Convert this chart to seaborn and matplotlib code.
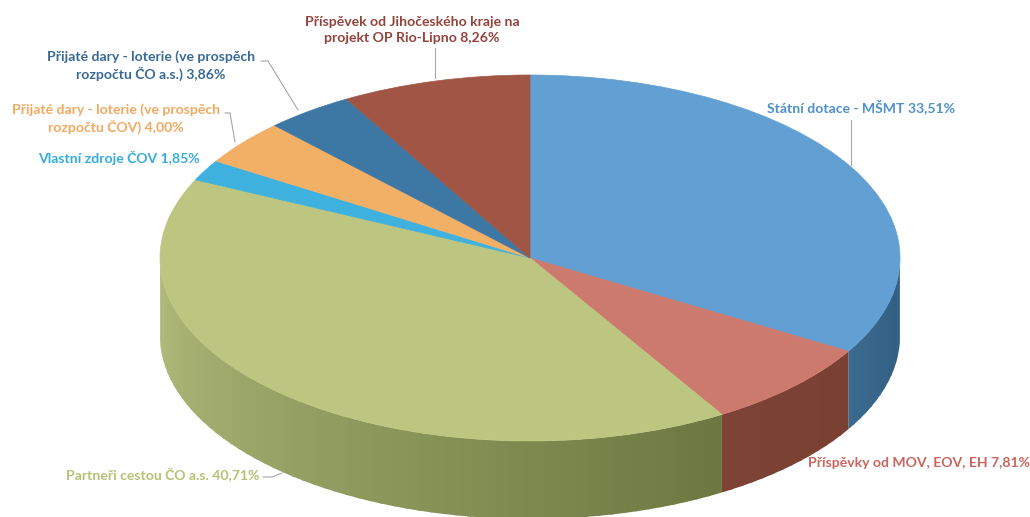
import numpy as np
import matplotlib
matplotlib.use('Agg')
import matplotlib.pyplot as plt
import seaborn as sns

# podily rozpoctu v procentech, po smeru hodin od vrcholu
podily = [33.51, 7.81, 40.71, 1.85, 4.00, 3.86, 8.26]
popisky = [
    'Státní dotace - MŠMT 33,51%',
    'Příspěvky od MOV, EOV, EH 7,81%',
    'Partneři cestou ČO a.s. 40,71%',
    'Vlastní zdroje ČOV 1,85%',
    'Přijaté dary - loterie (ve prospěch\nrozpočtu ČOV) 4,00%',
    'Přijaté dary - loterie (ve prospěch\nrozpočtu ČO a.s.) 3,86%',
    'Příspěvek od Jihočeského kraje na\nprojekt OP Rio-Lipno 8,26%',
]
barvy = ['#629FD3', '#CD7A6E', '#BCC680', '#3FB1DE', '#F2AF66', '#3D78A4', '#A05545']
barvy_textu = ['#4F90CC', '#C9655D', '#B4C273', '#35ACDD', '#F2A960', '#386A96', '#93433B']
# barvy boku kolace: zleva doprava podle uhlu
bok = {0: ('#2F5C80', '#3A6A8E'), 1: ('#7A4032', '#7C4235'), 2: ('#6C7840', '#B2BC7C')}

SIRKA, VYSKA = 1030, 517
CX, CY, RX, RY, HLOUBKA = 530, 258, 370, 183, 78

sns.set_theme(style='white')
plt.rcParams['font.family'] = ['Lato', 'DejaVu Sans']

fig = plt.figure(figsize=(SIRKA / 100, VYSKA / 100), dpi=100)
ax = fig.add_axes([0, 0, 1, 1])

# bok kolace - jen spodni polovina (90 az 270 stupnu po smeru hodin)
hranice = np.concatenate([[0], np.cumsum(podily)]) * 3.6
for i in bok:
    a0, a1 = max(hranice[i], 90), min(hranice[i + 1], 270)
    kroky = max(int((a1 - a0) / 2), 2)
    paleta = sns.blend_palette(bok[i], kroky)
    uhly = np.linspace(a0, a1, kroky + 1)
    for k in range(kroky):
        # presah o kousek, at mezi pruhy nejsou svisle cary
        konec = min(uhly[k + 1] + 0.6, a1)
        t = np.radians(np.linspace(uhly[k], konec, 6))
        x = np.sin(t)
        y = np.cos(t)
        ax.fill_between(x, y, y - HLOUBKA / RY, facecolor=paleta[k], edgecolor='none', lw=0)

wedges, _ = ax.pie(podily, colors=barvy, startangle=90, counterclock=False, radius=1, center=(0, 0))
for w, barva in zip(wedges, barvy):
    w.set_edgecolor(barva)
    w.set_linewidth(0.5)

ax.set_aspect('auto')
ax.set_xlim(-CX / RX, (SIRKA - CX) / RX)
ax.set_ylim(-(VYSKA - CY) / RY, CY / RY)
ax.axis('off')


def px(x, y):
    return x / SIRKA, 1 - y / VYSKA


# pozice popisku v pixelech
pozice = [(767, 107, 'left'), (808, 463, 'left'), (66, 474, 'left'), (38, 158, 'left'),
          (116, 119, 'center'), (151, 66, 'center'), (412, 30, 'center')]
for text, barva, (x, y, ha) in zip(popisky, barvy_textu, pozice):
    fx, fy = px(x, y)
    fig.text(fx, fy, text, color=barva, fontsize=10.1, fontweight='bold',
             ha=ha, va='center', linespacing=1.3)

# vodici cary
cary = [[(851, 120), (851, 165)], [(435, 48), (435, 78)],
        [(261, 61), (268, 61), (298, 110)], [(225, 113), (230, 113), (235, 142)],
        [(263, 477), (272, 477), (282, 473)]]
for cara in cary:
    xs, ys = zip(*[px(*p) for p in cara])
    fig.add_artist(plt.Line2D(xs, ys, color='#A6A6A6', lw=0.8))

fig.savefig('out.png', dpi=100, facecolor='white')
